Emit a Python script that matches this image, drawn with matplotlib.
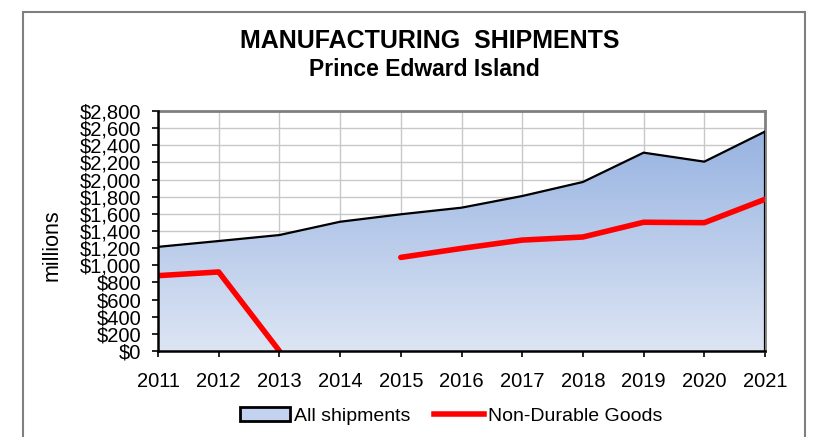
import numpy as np
import matplotlib
matplotlib.use("Agg")
import matplotlib.pyplot as plt
from matplotlib.patches import Patch, Rectangle
from matplotlib.lines import Line2D
from matplotlib.colors import LinearSegmentedColormap
from matplotlib.ticker import FuncFormatter, MultipleLocator

# Données (millions de dollars)
years = [2011, 2012, 2013, 2014, 2015, 2016, 2017, 2018, 2019, 2020, 2021]
all_shipments = [1215, 1283, 1353, 1508, 1595, 1672, 1808, 1972, 2314, 2209, 2560]
non_durable = [879, 922, 0, np.nan, 1092, 1197, 1294, 1330, 1502, 1497, 1770]

title = "MANUFACTURING  SHIPMENTS"
subtitle = "Prince Edward Island"

plt.rcParams['font.family'] = ['Liberation Sans', 'DejaVu Sans']

W, H = 813, 437
fig = plt.figure(figsize=(W / 100, H / 100), dpi=100)

# Cadre autour du graphique
fig.patches.append(Rectangle((23 / W, -0.1), (805 - 23) / W, (H - 12) / H + 0.1,
                             transform=fig.transFigure, fill=False,
                             edgecolor='#7f7f7f', linewidth=1.5))

ax = fig.add_axes([158 / W, 1 - 351 / H, (765 - 158) / W, (351 - 111) / H])

# Zone avec dégradé
top = max(all_shipments)
cmap = LinearSegmentedColormap.from_list("grad", ["#dde5f4", "#97b3e1"])
grad = np.linspace(0, 1, 256).reshape(-1, 1)
img = ax.imshow(grad, extent=[years[0], years[-1], 0, top], origin='lower',
                aspect='auto', cmap=cmap, zorder=1)
poly = ax.fill_between(years, all_shipments, 0, facecolor='none', edgecolor='none', zorder=1)
clip_path = poly.get_paths()[0]
img.set_clip_path(clip_path, transform=ax.transData)

ax.plot(years, all_shipments, color='black', linewidth=1.6, zorder=3)
ax.plot([years[-1], years[-1]], [0, all_shipments[-1]], color='black', linewidth=1.6, zorder=3)
ax.plot(years, non_durable, color='#ff0000', linewidth=4, zorder=4,
        solid_capstyle='round')

ax.set_xlim(years[0], years[-1])
ax.set_ylim(0, 2800)
ax.set_xticks(years)
ax.yaxis.set_major_locator(MultipleLocator(200))
ax.yaxis.set_major_formatter(FuncFormatter(lambda v, p: "${:,.0f}".format(v)))
ax.grid(True, color='#c8c8c8', linewidth=1, zorder=0)
ax.set_axisbelow(True)

ax.tick_params(axis='both', direction='out', length=4, width=1.2, colors='black')
ax.tick_params(axis='y', labelsize=14.5, pad=8)
ax.tick_params(axis='x', labelsize=14.5, pad=11)

for side in ['top', 'right']:
    ax.spines[side].set_color('#808080')
    ax.spines[side].set_linewidth(2)
for side in ['left', 'bottom']:
    ax.spines[side].set_color('black')
    ax.spines[side].set_linewidth(1.8)
    ax.spines[side].set_zorder(5)

fig.text(52 / W, 1 - 245 / H, "millions", rotation=90, ha='center', va='center', fontsize=15.5)

fig.text(430 / W, 1 - 41 / H, title, ha='center', va='center', fontsize=18, fontweight='bold')
fig.text(424 / W, 1 - 69 / H, subtitle, ha='center', va='center', fontsize=16.5, fontweight='bold')

handles = [Patch(facecolor='#c3d2ee', edgecolor='black', linewidth=2),
           Line2D([0], [0], color='#ff0000', linewidth=4)]
fig.legend(handles, ["All shipments", "Non-Durable Goods"], loc='center',
           bbox_to_anchor=(451 / W, 1 - 416 / H), ncol=2, frameon=False,
           fontsize=14, handlelength=2.6, handletextpad=0.2, columnspacing=1.2)

fig.savefig("out.png", dpi=100)
